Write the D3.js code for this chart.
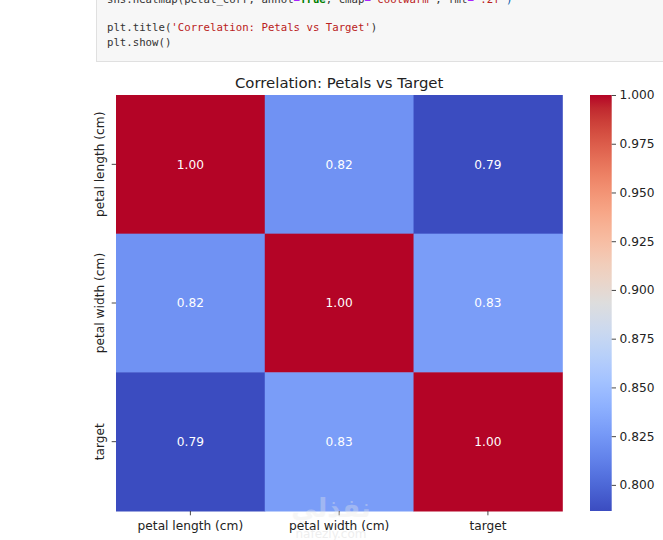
<!DOCTYPE html>
<html>
<head>
<meta charset="utf-8">
<script src="https://cdn.jsdelivr.net/npm/d3@7"></script>
<style>
  html, body { margin: 0; padding: 0; background: #fff; }
  svg { display: block; }
</style>
</head>
<body>
<svg id="chart" width="663" height="540"></svg>
<script>
// ---- data ----
const categories = ["petal length (cm)", "petal width (cm)", "target"];
const rowPetalLength = [1.00, 0.8221, 0.7866];
const rowPetalWidth  = [0.8221, 1.00, 0.8283];
const rowTarget      = [0.7866, 0.8283, 1.00];
const matrix = [rowPetalLength, rowPetalWidth, rowTarget];
const colorbarTicks = [0.800, 0.825, 0.850, 0.875, 0.900, 0.925, 0.950, 0.975, 1.000];
const chartTitle = "Correlation: Petals vs Target";
const codeLines = [
  [["sns", "#333"], [".heatmap(petal_corr, annot", "#333"], ["=", "#aa22ff"], ["True", "#008000", "bold"], [", cmap", "#333"], ["=", "#aa22ff"], ["'coolwarm'", "#ba2121"], [", fmt", "#333"], ["=", "#aa22ff"], ["'.2f'", "#ba2121"], [")", "#0055aa"]],
  [],
  [["plt", "#333"], [".title(", "#333"], ["'Correlation: Petals vs Target'", "#ba2121"], [")", "#333"]],
  [["plt", "#333"], [".show()", "#333"]]
];

// coolwarm colormap stops (matplotlib)
const coolwarm = ["#3b4cc0","#445acc","#4d68d7","#5775e1","#6282ea","#6c8ef1","#779af7","#82a5fb","#8db0fe","#98b9ff","#a3c2ff","#aec9fd","#b8d0f9","#c2d5f4","#ccd9ee","#d5dbe6","#dddddd","#e5d8d1","#ecd3c5","#f1cdba","#f5c4ad","#f7bba0","#f7b194","#f7a687","#f49a7b","#f18d6f","#ec7f63","#e57058","#de604d","#d55042","#cb3e38","#c0282f","#b40426"];

const svg = d3.select("#chart");
const FONT = "DejaVu Sans, sans-serif";

// ---- code cell ----
const code = svg.append("g");
code.append("rect").attr("x", 96.5).attr("y", -2).attr("width", 580).attr("height", 63.5)
  .attr("fill", "#f7f7f7").attr("stroke", "#e0e0e0");
const lineY = [2.5, 17, 31, 46];
codeLines.forEach((segs, i) => {
  if (!segs.length) return;
  const t = code.append("text").attr("x", 107).attr("y", lineY[i])
    .attr("font-family", "DejaVu Sans Mono, monospace").attr("font-size", 10.7)
    .attr("xml:space", "preserve");
  segs.forEach(s => t.append("tspan").attr("fill", s[1]).attr("font-weight", s[2] || "normal").text(s[0]));
});

// ---- heatmap ----
const pLeft = 116, pRight = 562.3, pTop = 95, pBottom = 511;
const x = d3.scaleBand().domain(categories).range([pLeft, pRight]).padding(0);
const y = d3.scaleBand().domain(categories).range([pTop, pBottom]).padding(0);
const vmin = d3.min(matrix.flat()), vmax = d3.max(matrix.flat());
const stopPos = coolwarm.map((c, i) => vmin + (vmax - vmin) * i / (coolwarm.length - 1));
const color = d3.scaleLinear().domain(stopPos).range(coolwarm).interpolate(d3.interpolateRgb).clamp(true);

const cells = [];
matrix.forEach((row, i) => row.forEach((v, j) => cells.push({ r: categories[i], c: categories[j], v })));

svg.append("g").selectAll("rect").data(cells).join("rect")
  .attr("x", d => x(d.c)).attr("y", d => y(d.r))
  .attr("width", x.bandwidth() + 0.5).attr("height", y.bandwidth() + 0.5)
  .attr("fill", d => color(d.v));

svg.append("g").selectAll("text").data(cells).join("text")
  .attr("x", d => x(d.c) + x.bandwidth() / 2)
  .attr("y", d => y(d.r) + y.bandwidth() / 2)
  .attr("text-anchor", "middle").attr("dy", "0.36em")
  .attr("font-family", FONT).attr("font-size", 12.2).attr("fill", "#ffffff")
  .text(d => d3.format(".2f")(d.v));

// x axis
const xAxis = svg.append("g").attr("transform", `translate(0,${pBottom})`)
  .call(d3.axisBottom(x).tickSize(4.3).tickPadding(6.5));
xAxis.select(".domain").remove();
xAxis.selectAll(".tick line").attr("stroke", "#333").attr("stroke-width", 0.9);
xAxis.selectAll(".tick text").attr("font-family", FONT).attr("font-size", 12.2).attr("fill", "#222");

// y axis
const yAxis = svg.append("g").attr("transform", `translate(${pLeft},0)`)
  .call(d3.axisLeft(y).tickSize(4.3).tickPadding(4.3));
yAxis.select(".domain").remove();
yAxis.selectAll(".tick line").attr("stroke", "#333").attr("stroke-width", 0.9);
yAxis.selectAll(".tick text")
  .attr("font-family", FONT).attr("font-size", 12.2).attr("fill", "#222")
  .attr("x", null).attr("dy", null)
  .attr("text-anchor", "middle")
  .attr("transform", "translate(-12,0) rotate(-90)");

// title
svg.append("text").attr("x", (pLeft + pRight) / 2).attr("y", 88)
  .attr("text-anchor", "middle").attr("font-family", FONT).attr("font-size", 14.9).attr("fill", "#222")
  .text(chartTitle);

// ---- colorbar ----
const cbX = 590, cbW = 21.7;
const cy = d3.scaleLinear().domain([vmin, vmax]).range([pBottom, pTop]);
const defs = svg.append("defs");
const grad = defs.append("linearGradient").attr("id", "cwgrad")
  .attr("x1", 0).attr("y1", 1).attr("x2", 0).attr("y2", 0);
coolwarm.forEach((c, i) => grad.append("stop").attr("offset", i / (coolwarm.length - 1)).attr("stop-color", c));
svg.append("rect").attr("x", cbX).attr("y", pTop).attr("width", cbW).attr("height", pBottom - pTop)
  .attr("fill", "url(#cwgrad)");
const cAxis = svg.append("g").attr("transform", `translate(${cbX + cbW},0)`)
  .call(d3.axisRight(cy).tickValues(colorbarTicks).tickFormat(d3.format(".3f")).tickSize(4.3).tickPadding(3.5));
cAxis.select(".domain").remove();
cAxis.selectAll(".tick line").attr("stroke", "#333").attr("stroke-width", 0.9);
cAxis.selectAll(".tick text").attr("font-family", FONT).attr("font-size", 12.2).attr("fill", "#222");

// ---- watermark ----
const wm = svg.append("g").attr("opacity", 0.35);
wm.append("text").attr("x", 331).attr("y", 517).attr("text-anchor", "middle")
  .attr("font-family", "Noto Sans, DejaVu Sans, sans-serif").attr("font-size", 26).attr("font-weight", "bold")
  .attr("fill", "#e8e8e8").text("نفذلي");
wm.append("text").attr("x", 331).attr("y", 538).attr("text-anchor", "middle")
  .attr("font-family", FONT).attr("font-size", 12).attr("fill", "#d0d0d0").text("nafezly.com");
</script>
</body>
</html>
